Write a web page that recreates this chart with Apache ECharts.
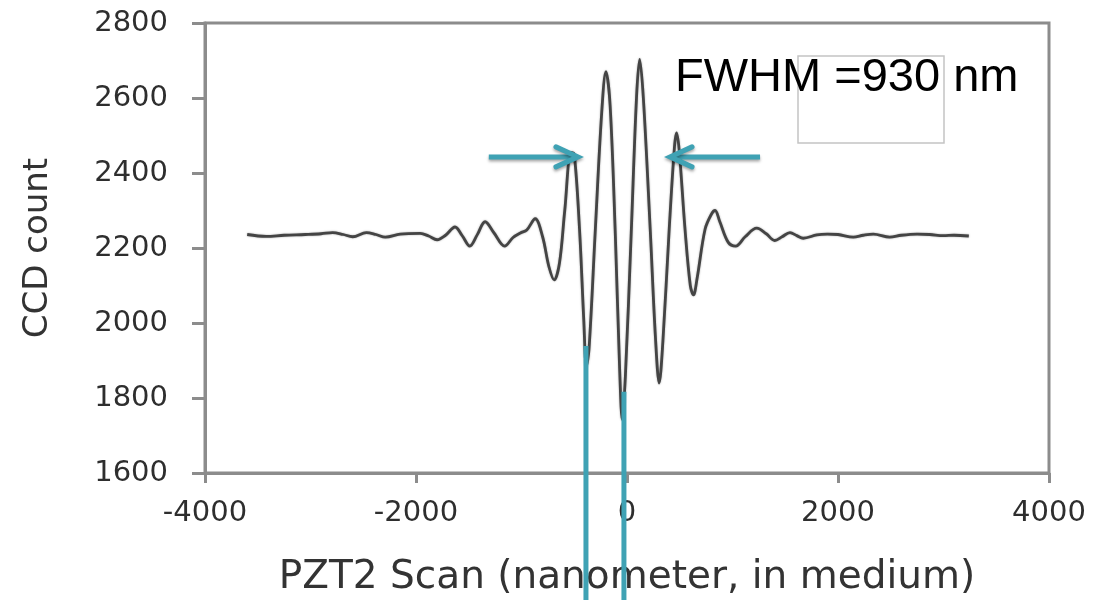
<!DOCTYPE html>
<html><head><meta charset="utf-8">
<script src="https://cdn.jsdelivr.net/npm/echarts@6/dist/echarts.min.js"></script>
<style>html,body{margin:0;padding:0;background:#fff}#c{width:1094px;height:600px}</style>
</head><body><div id="c"></div>
<script>
// PZT2 scan position (nm, in medium)
const scanNm = [-3600,-3420,-3250,-3050,-2900,-2790,-2690,-2600,-2470,-2380,-2290,-2150,-1960,-1880,-1800,-1720,-1630,-1560,-1490,-1420,-1345,-1260,-1160,-1080,-1010,-950,-870,-800,-740,-690,-640,-590,-530,-500,-450,-410,-385,-360,-300,-240,-200,-160,-110,-70,-45,-15,40,90,120,155,220,270,305,340,400,450,470,495,550,600,630,665,740,800,835,880,960,1030,1120,1230,1320,1400,1470,1545,1610,1670,1800,1900,2000,2145,2240,2335,2490,2600,2750,2870,3000,3100,3240];
// CCD count
const ccdCount = [2236,2231,2234,2236,2238,2241,2236,2230,2241,2236,2229,2237,2239,2232,2222,2234,2256,2232,2205,2235,2270,2240,2205,2228,2240,2248,2278,2230,2150,2115,2160,2300,2455,2450,2250,2010,1885,1930,2250,2560,2670,2580,2230,1880,1742,1860,2240,2600,2703,2600,2250,1960,1840,1950,2250,2470,2507,2460,2250,2100,2075,2120,2250,2290,2300,2270,2215,2205,2230,2253,2238,2220,2230,2241,2233,2226,2235,2237,2236,2229,2234,2237,2229,2234,2237,2236,2233,2234,2232];
const xTickValues = [-4000,-2000,0,2000,4000];
const yTickValues = [1600,1800,2000,2200,2400,2600,2800];
const xTitle = 'PZT2 Scan (nanometer, in medium)';
const yTitle = 'CCD count';
const annotText = 'FWHM =930 nm';
// annotation anchors in data units
const leftArrow = {from:[-1310,2443], to:[-465,2443]};
const rightArrow = {from:[1261,2443], to:[408,2443]};
const markerLines = [[-389,1939],[-29,1817]];

const chart = echarts.init(document.getElementById('c'), null, {renderer:'canvas'});
const axisGray = '#8c8c8c';
const labelFont = 'DejaVu Sans';
chart.setOption({
  animation:false,
  backgroundColor:'#fff',
  grid:{left:205,right:45,top:23,bottom:127,show:true,borderColor:axisGray,borderWidth:3,outerBoundsMode:'none'},
  xAxis:{type:'value',min:xTickValues[0],max:xTickValues[xTickValues.length-1],interval:2000,
    name:xTitle,nameLocation:'middle',nameGap:85,
    nameTextStyle:{fontFamily:labelFont,fontSize:39,color:'#333'},
    axisLine:{show:true,onZero:false,lineStyle:{color:axisGray,width:3}},
    axisTick:{show:true,length:10,lineStyle:{color:axisGray,width:3}},
    axisLabel:{margin:26,fontFamily:labelFont,fontSize:29,color:'#2e2e2e',formatter:v=>String(v)},
    splitLine:{show:false}},
  yAxis:{type:'value',min:yTickValues[0],max:yTickValues[yTickValues.length-1],interval:200,
    name:yTitle,nameLocation:'middle',nameRotate:90,nameGap:150,
    nameTextStyle:{fontFamily:labelFont,fontSize:34,color:'#333'},
    axisLine:{show:true,onZero:false,lineStyle:{color:axisGray,width:3}},
    axisTick:{show:true,length:13,lineStyle:{color:axisGray,width:3}},
    axisLabel:{margin:37,fontFamily:labelFont,fontSize:29,color:'#2e2e2e',formatter:v=>String(v)},
    splitLine:{show:false}},
  series:[{type:'line',data:scanNm.map((x,i)=>[x,ccdCount[i]]),symbol:'none',smooth:0.35,
    lineStyle:{color:'#444',width:2.8,shadowColor:'rgba(0,0,0,0.35)',shadowBlur:2}}]
});

const teal = '#3fa2b4';
const shadow = {shadowColor:'rgba(0,0,0,0.35)',shadowBlur:3,shadowOffsetY:2};
function px(p){return chart.convertToPixel({gridIndex:0},p);}
function arrow(a){
  const f = px(a.from), t = px(a.to);
  const dir = Math.sign(t[0]-f[0]);
  return [
    {type:'line',shape:{x1:f[0],y1:f[1],x2:t[0]-dir*2,y2:t[1]},style:Object.assign({stroke:teal,lineWidth:5},shadow),z:10},
    {type:'polyline',shape:{points:[[t[0]-dir*22,t[1]-10],[t[0],t[1]],[t[0]-dir*22,t[1]+10]]},style:Object.assign({stroke:teal,lineWidth:5,fill:null,lineCap:'round',lineJoin:'miter'},shadow),z:10}
  ];
}
const H = chart.getHeight();
const g = [];
g.push(...arrow(leftArrow), ...arrow(rightArrow));
markerLines.forEach(m=>{
  const p = px(m);
  g.push({type:'line',shape:{x1:p[0],y1:p[1],x2:p[0],y2:H},style:{stroke:teal,lineWidth:5},z:10});
});
g.push({type:'rect',shape:{x:798,y:56,width:146,height:87},style:{fill:'transparent',stroke:'#c4c4c4',lineWidth:1.5},z:11});
g.push({type:'text',x:675,y:55,style:{text:annotText,fontFamily:'Liberation Sans',fontSize:47,fill:'#000',verticalAlign:'top'},z:12});
chart.setOption({graphic:g});
</script></body></html>
